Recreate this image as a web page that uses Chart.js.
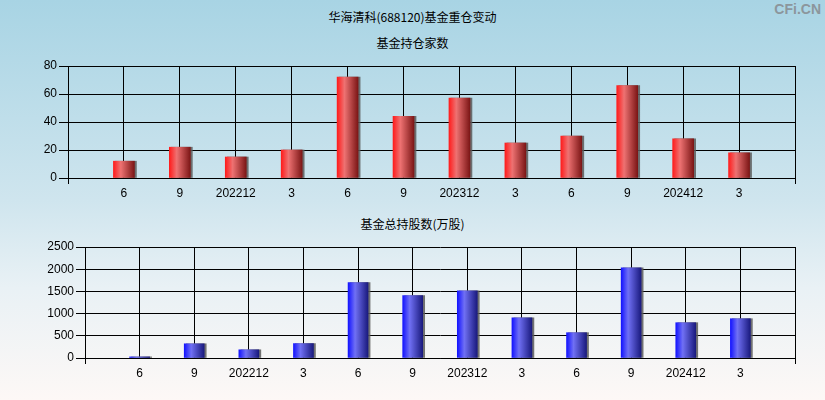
<!DOCTYPE html>
<html>
<head>
<meta charset="utf-8">
<script src="https://cdn.jsdelivr.net/npm/chart.js@4/dist/chart.umd.min.js"></script>
<style>
  html, body { margin:0; padding:0; }
  body { width:825px; height:400px; position:relative; overflow:hidden;
         background: linear-gradient(to bottom, #a8d4e4 0%, #cfe5ee 50%, #e9f1f5 72%, #fdf8f6 100%); }
  .t { position:absolute; left:0; width:825px; text-align:center; font-family:"Noto Sans CJK SC","Noto Sans",sans-serif; font-size:12px; color:#000; line-height:14px; }
  .wm { position:absolute; right:4px; top:1px; font-family:"Liberation Sans",Arial,sans-serif; font-weight:bold; font-size:14px; color:#8c969c; }
  .box { position:absolute; left:0; width:825px; height:200px; }
</style>
</head>
<body>
<div class="t" style="top:10px;">华海清科(688120)基金重仓变动</div>
<div class="wm">CFi.CN</div>
<div class="t" style="top:36px;">基金持仓家数</div>
<div class="t" style="top:217px;">基金总持股数(万股)</div>
<div class="box" style="top:0;"><canvas id="c1" width="825" height="200"></canvas></div>
<div class="box" style="top:200px;"><canvas id="c2" width="825" height="200"></canvas></div>
<script>
const categories = ['', '6', '9', '202212', '3', '6', '9', '202312', '3', '6', '9', '202412', '3', ''];
const holders = [null, 12, 22, 15, 20, 72, 44, 57, 25, 30, 66, 28, 18, null];
const shares = [null, 25, 320, 185, 325, 1700, 1405, 1515, 905, 570, 2030, 795, 885, null];

const redStops = [[0, '#ff1c1c'], [0.35, '#ee7272'], [1, '#7c1616']];
const blueStops = [[0, '#1414ff'], [0.35, '#7070f4'], [1, '#1a1a7e']];

function grad(stops, thick) {
  return (ctx) => {
    const chart = ctx.chart;
    const xs = chart.scales && chart.scales.x;
    if (!xs || !chart.chartArea || ctx.type !== 'data') return stops[0][1];
    const cx = xs.getPixelForValue(ctx.dataIndex);
    const g = chart.ctx.createLinearGradient(cx - thick / 2, 0, cx + thick / 2, 0);
    stops.forEach(s => g.addColorStop(s[0], s[1]));
    return g;
  };
}

const shadowPlugin = {
  id: 'barShadow',
  beforeDatasetsDraw(chart) {
    const c = chart.ctx; c.save();
    c.shadowColor = 'rgba(90,90,90,0.85)'; c.shadowOffsetX = 2; c.shadowOffsetY = 0; c.shadowBlur = 0;
  },
  afterDatasetsDraw(chart) { chart.ctx.restore(); }
};

const numFont = { family: '"Liberation Sans", Arial, sans-serif', size: 12 };

function makeChart(id, data, stops, thick, yMax, yStep, yWidth, xHeight, padTop) {
  return new Chart(document.getElementById(id), {
    type: 'bar',
    data: { labels: categories, datasets: [{ data: data, backgroundColor: grad(stops, thick), borderWidth: 0, barThickness: thick }] },
    options: {
      responsive: false, animation: false,
      layout: { padding: { top: padTop, right: 30, left: 0, bottom: 0 } },
      plugins: { legend: { display: false }, tooltip: { enabled: false } },
      scales: {
        x: {
          offset: false,
          grid: { offset: false, color: '#000', lineWidth: 1, tickLength: 6,
                  tickColor: (c) => (c.index === 0 || c.index === categories.length - 1) ? '#000' : 'rgba(0,0,0,0)' },
          border: { color: '#000', width: 1 },
          ticks: { color: '#000', font: numFont, autoSkip: false, maxRotation: 0, padding: 2 },
          afterFit: (s) => { s.height = xHeight; }
        },
        y: {
          min: 0, max: yMax,
          grid: { color: '#000', lineWidth: 1, tickLength: 9, tickColor: '#000' },
          border: { color: '#000', width: 1 },
          ticks: { stepSize: yStep, color: '#000', font: numFont, padding: 2, callback: (v) => String(v) },
          afterFit: (s) => { s.width = yWidth; }
        }
      }
    },
    plugins: [shadowPlugin]
  });
}

makeChart('c1', holders, redStops, 21, 80, 20, 68, 22, 66);
makeChart('c2', shares, blueStops, 20, 2500, 500, 85, 42, 47);
</script>
</body>
</html>
